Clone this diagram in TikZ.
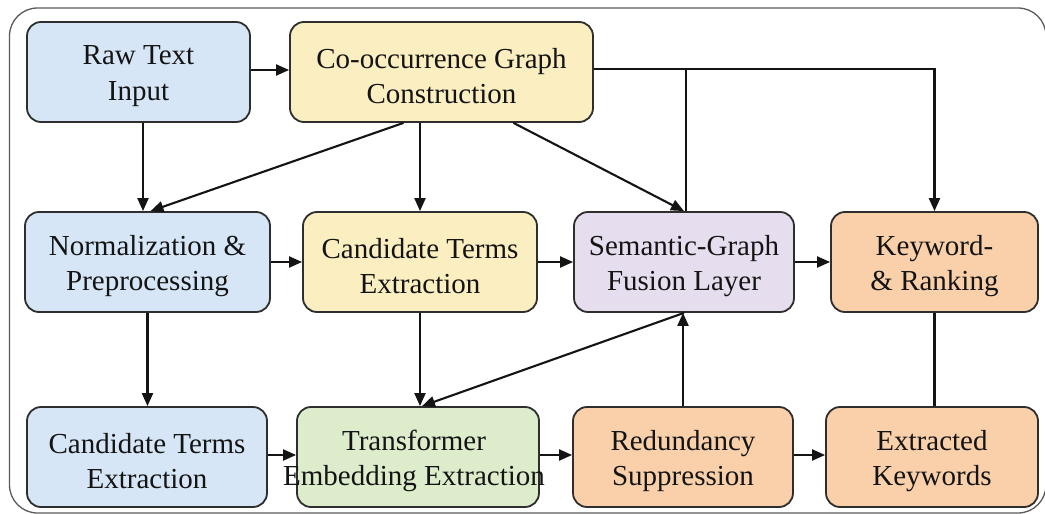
\documentclass[tikz,border=0pt]{standalone}
\usepackage{fontspec}
\setmainfont{Liberation Serif}
\usetikzlibrary{arrows.meta}

\definecolor{boxline}{HTML}{2E2E2E}
\definecolor{frameline}{HTML}{5A5A5A}
\definecolor{cblue}{HTML}{D6E6F6}
\definecolor{cyellow}{HTML}{FBEEC1}
\definecolor{cpurple}{HTML}{E6DDEE}
\definecolor{corange}{HTML}{F9D0AA}
\definecolor{cgreen}{HTML}{DDEDCC}

\begin{document}
\begin{tikzpicture}[x=1pt,y=-1pt,
  box/.style={draw=boxline, line width=1.8pt, rounded corners=14pt,
              inner sep=0pt, minimum height=100pt},
  lbl/.style={font=\fontsize{29}{35.5}\selectfont, align=center, text=black!92},
  arr/.style={line width=2.1pt, draw=black!92,
              -{Triangle[length=13pt,width=11pt]}},
  ln/.style={line width=2.1pt, draw=black!92}]

\useasboundingbox (0,0) rectangle (1045,514);

% outer frame
\draw[frameline, line width=1.3pt, rounded corners=28pt] (9.5,8) rectangle (1046,513);

% top row
\node[box, fill=cblue,   minimum width=223pt] (raw)  at (138.5,72) {};
\node[box, fill=cyellow, minimum width=303pt] (cooc) at (441.5,72) {};

% middle row
\node[box, fill=cblue,   minimum width=245pt] (norm) at (147.5,262) {};
\node[box, fill=cyellow, minimum width=234pt] (cand) at (420,262) {};
\node[box, fill=cpurple, minimum width=220pt] (sem)  at (684,262) {};
\node[box, fill=corange, minimum width=207pt] (key)  at (934.5,262) {};

% bottom row
\node[box, fill=cblue,   minimum width=240pt] (cand2) at (147,457) {};
\node[box, fill=cgreen,  minimum width=242pt] (trans) at (418,457) {};
\node[box, fill=corange, minimum width=220pt] (red)   at (683,457) {};
\node[box, fill=corange, minimum width=212pt] (ext)   at (932,457) {};

% labels, set a little below the box centres
\tikzset{lbldown/.style={lbl, yshift=-4pt}}
\node[lbldown] (traw)   at (raw)   {Raw Text\\Input};
\node[lbldown] (tcooc)  at (cooc)  {Co-occurrence Graph\\Construction};
\node[lbldown] (tnorm)  at (norm)  {Normalization \&\\Preprocessing};
\node[lbldown] (tcand)  at (cand)  {Candidate Terms\\Extraction};
\node[lbldown] (tsem)   at (sem)   {Semantic-Graph\\Fusion Layer};
\node[lbldown] (tkey)   at (key)   {Keyword-\\\& Ranking};
\node[lbldown] (tcand2) at (cand2) {Candidate Terms\\Extraction};
\node[lbldown] (ttrans) at ([xshift=-4pt]trans) {Transformer\\Embedding Extraction};
\node[lbldown] (tred)   at (red)   {Redundancy\\Suppression};
\node[lbldown] (text)   at (ext)   {Extracted\\Keywords};

% horizontal flow
\draw[arr] ([yshift=2pt]raw.east) -- ([yshift=2pt]cooc.west);
\draw[arr] (norm.east) -- (cand.west);
\draw[arr] (cand.east) -- (sem.west);
\draw[arr] (sem.east) -- (key.west);
\draw[arr] ([yshift=2pt]cand2.east) -- ([yshift=2pt]trans.west);
\draw[arr] ([yshift=2pt]trans.east) -- ([yshift=2pt]red.west);
\draw[arr] ([yshift=2pt]red.east) -- ([yshift=2pt]ext.west);

% vertical flow
\draw[arr] ([xshift=4.5pt]raw.south) -- ([xshift=4.5pt]raw.south |- norm.north);
\draw[arr] (norm.south) -- (norm.south |- cand2.north);
\draw[arr] (cand.south |- cooc.south) -- (cand.north);
\draw[arr] (cand.south) -- (cand.south |- trans.north);
\draw[arr] (red.north) -- (red.north |- sem.south);
\draw[ln]  (key.south) -- (key.south |- ext.north);

% diagonals
\draw[arr] ([xshift=-38pt]cooc.south) -- ([xshift=3pt]norm.north);
\draw[arr] ([xshift=72pt]cooc.south) -- (sem.north);
\draw[arr] (sem.south) -- ([xshift=4pt]trans.north);

% bus from the graph construction to ranking and fusion
\coordinate (tap) at (686,69);
\draw[arr] ([yshift=3pt]cooc.east) -| (key.north);
\draw[ln]  (tap) -- (tap |- sem.north);
\end{tikzpicture}
\end{document}
